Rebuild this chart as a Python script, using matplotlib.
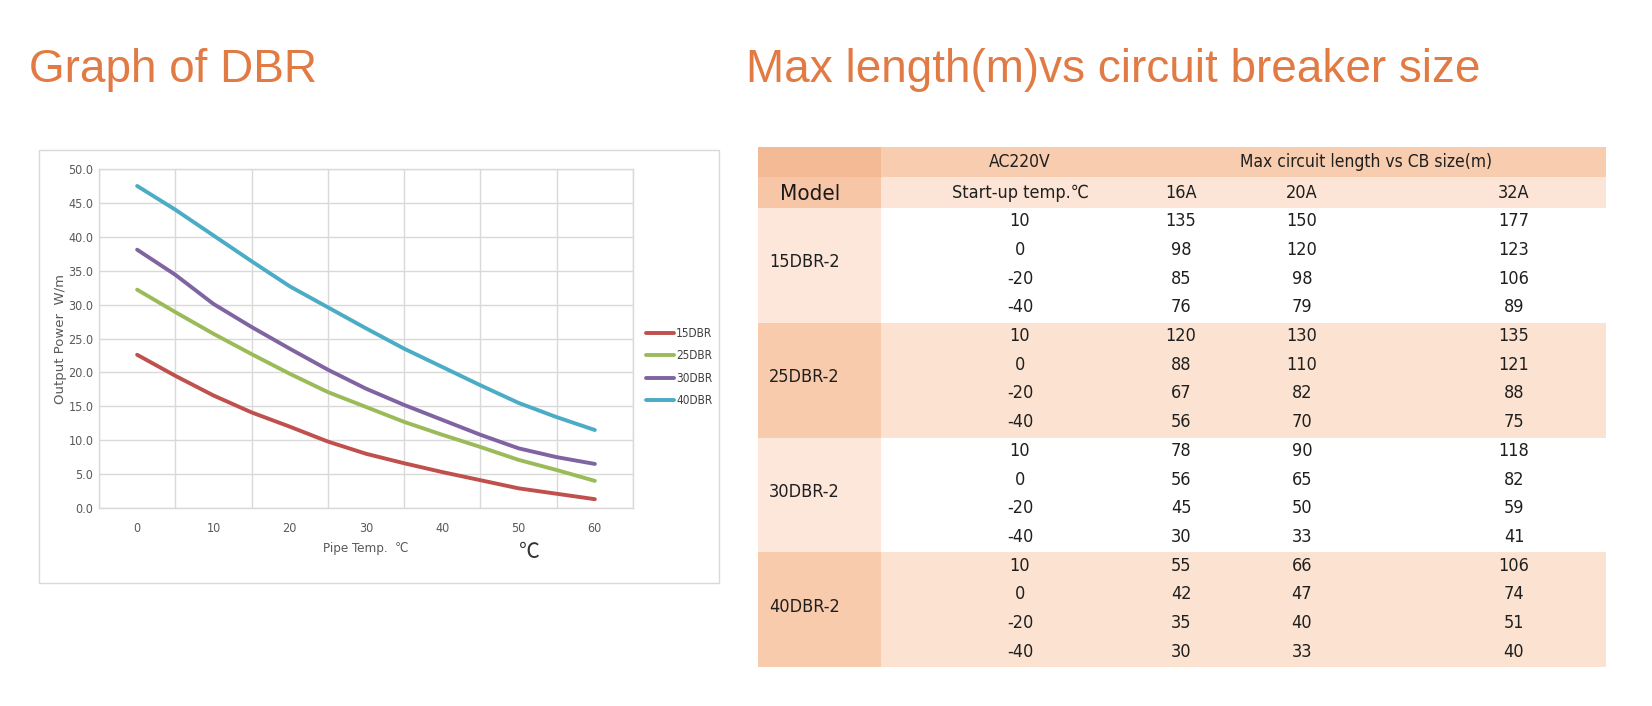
import numpy as np
import matplotlib
matplotlib.use("Agg")
import matplotlib.pyplot as plt
from matplotlib.patches import Rectangle
from matplotlib import font_manager

# ---- chart data ----
temps = [0, 5, 10, 15, 20, 25, 30, 35, 40, 45, 50, 55, 60]
p15 = [22.6, 19.5, 16.6, 14.1, 12.0, 9.8, 8.0, 6.6, 5.3, 4.1, 2.9, 2.1, 1.3]
p25 = [32.2, 28.9, 25.7, 22.7, 19.8, 17.1, 14.9, 12.7, 10.8, 9.0, 7.1, 5.6, 4.0]
p30 = [38.1, 34.4, 30.1, 26.7, 23.5, 20.4, 17.6, 15.2, 13.0, 10.8, 8.8, 7.5, 6.5]
p40 = [47.5, 44.0, 40.2, 36.4, 32.7, 29.6, 26.5, 23.5, 20.8, 18.1, 15.5, 13.4, 11.5]
series_names = ["15DBR", "25DBR", "30DBR", "40DBR"]
series_colors = ["#C0504D", "#9BBB59", "#8064A2", "#4BACC6"]

# ---- table data ----
models = ["15DBR-2", "25DBR-2", "30DBR-2", "40DBR-2"]
startup = [10, 0, -20, -40]
cb_sizes = ["16A", "20A", "32A"]
len16 = [[135, 98, 85, 76], [120, 88, 67, 56], [78, 56, 45, 30], [55, 42, 35, 30]]
len20 = [[150, 120, 98, 79], [130, 110, 82, 70], [90, 65, 50, 33], [66, 47, 40, 33]]
len32 = [[177, 123, 106, 89], [135, 121, 88, 75], [118, 82, 59, 41], [106, 74, 51, 40]]

# narrow font: condensed DejaVu if it is there, else Liberation Sans
have_cond = any(f.name == "DejaVu Sans" and f.stretch == "condensed"
                for f in font_manager.fontManager.ttflist)
if have_cond:
    nf = dict(family=["DejaVu Sans"], stretch="condensed")
    tsize = 13
else:
    nf = dict(family=["Liberation Sans", "DejaVu Sans"])
    tsize = 13.5

W, H = 1652, 706
fig = plt.figure(figsize=(W / 100, H / 100), dpi=100)
fig.patch.set_facecolor("white")
orange = "#E27A44"

# overlay in pixel coords for titles / table / frame
ov = fig.add_axes([0, 0, 1, 1])
ov.set_xlim(0, W)
ov.set_ylim(H, 0)
ov.axis("off")

ov.text(29, 82, "Graph of DBR", fontsize=33, color=orange,
        family="Liberation Sans", va="baseline", ha="left")
ov.text(746, 82, "Max length(m)vs circuit breaker size", fontsize=33, color=orange,
        family="Liberation Sans", va="baseline", ha="left")

# chart frame
ov.add_patch(Rectangle((39, 150), 680, 433, fill=False, ec="#D9D9D9", lw=1))

# ---- table ----
t_left, t_right = 758, 1606
model_right = 881
h1_top, h1_bot, h2_bot, t_bot = 147, 177, 208, 667
row_h = (t_bot - h2_bot) / 16
col_x = [1020, 1181, 1302, 1514]
txt = "#1f1f1f"

ov.add_patch(Rectangle((t_left, h1_top), model_right - t_left, h1_bot - h1_top, color="#F4BA96", lw=0))
ov.add_patch(Rectangle((model_right, h1_top), t_right - model_right, h1_bot - h1_top, color="#F8CCAF", lw=0))
ov.add_patch(Rectangle((t_left, h1_bot), model_right - t_left, h2_bot - h1_bot, color="#F7C6A7", lw=0))
ov.add_patch(Rectangle((model_right, h1_bot), t_right - model_right, h2_bot - h1_bot, color="#FCE5D6", lw=0))

ov.text(col_x[0], (h1_top + h1_bot) / 2, "AC220V", fontsize=tsize - 0.5, color=txt, ha="center", va="center", **nf)
ov.text(1366, (h1_top + h1_bot) / 2, "Max circuit length vs CB size(m)", fontsize=tsize - 0.5,
        color=txt, ha="center", va="center", **nf)
ov.text(780, (h1_bot + h2_bot) / 2 + 1, "Model", fontsize=tsize + 3, color="#1a1a1a", ha="left", va="center", **nf)
ov.text(col_x[0], (h1_bot + h2_bot) / 2, "Start-up temp.℃", fontsize=tsize, color=txt,
        ha="center", va="center", **nf)
for cx, lab in zip(col_x[1:], cb_sizes):
    ov.text(cx, (h1_bot + h2_bot) / 2, lab, fontsize=tsize, color=txt, ha="center", va="center", **nf)

for b, model in enumerate(models):
    top = h2_bot + b * 4 * row_h
    if b % 2 == 0:
        mc, dc = "#FCE7DA", "white"
    else:
        mc, dc = "#F8CBAD", "#FBE2D1"
    ov.add_patch(Rectangle((t_left, top), model_right - t_left, 4 * row_h, color=mc, lw=0))
    ov.add_patch(Rectangle((model_right, top), t_right - model_right, 4 * row_h, color=dc, lw=0))
    ov.text(769, top + 2 * row_h - 3, model, fontsize=tsize, color=txt, ha="left", va="center", **nf)
    for r in range(4):
        y = top + (r + 0.5) * row_h - 1
        vals = [startup[r], len16[b][r], len20[b][r], len32[b][r]]
        for cx, v in zip(col_x, vals):
            ov.text(cx, y, str(v), fontsize=tsize, color=txt, ha="center", va="center", **nf)

# ---- chart ----
ax = fig.add_axes([99 / W, 1 - 508 / H, (633 - 99) / W, (508 - 169) / H])
for vals, name, c in zip([p15, p25, p30, p40], series_names, series_colors):
    ax.plot(temps, vals, color=c, lw=2.8, label=name, solid_capstyle="round", solid_joinstyle="round")

ax.set_xlim(-5, 65)
ax.set_ylim(0, 50)
ax.set_xticks(np.arange(0, 61, 10))
ax.set_xticks(np.arange(-5, 66, 10), minor=True)
ax.set_yticks(np.arange(0, 51, 5))
ax.set_yticklabels(["%.1f" % v for v in np.arange(0, 51, 5)])
ax.grid(axis="x", which="minor", color="#D9D9D9", lw=1)
ax.grid(axis="y", which="major", color="#D9D9D9", lw=1)
ax.tick_params(which="both", length=0)
ax.tick_params(axis="y", pad=4, labelsize=9, labelcolor="#595959")
ax.tick_params(axis="x", pad=10, labelsize=9, labelcolor="#595959")
for lab in ax.get_xticklabels() + ax.get_yticklabels():
    lab.set_family(nf["family"])
    if have_cond:
        lab.set_stretch("condensed")
for s in ax.spines.values():
    s.set_color("#D9D9D9")
    s.set_linewidth(1)

ax.set_ylabel("Output Power  W/m", fontsize=9.5, color="#595959", family="DejaVu Sans", labelpad=1)
ax.set_xlabel("Pipe Temp.  ℃", fontsize=9.5, color="#595959", labelpad=5, **nf)
ov.text(529, 552, "℃", fontsize=15, color="#333333", family=["Noto Sans CJK SC", "DejaVu Sans"],
        ha="center", va="center")

leg = ax.legend(loc="center left", bbox_to_anchor=(646 / W, 1 - 367 / H), bbox_transform=fig.transFigure,
                frameon=False, handlelength=2.4, handletextpad=0.15, labelspacing=0.8,
                borderpad=0, borderaxespad=0, prop=font_manager.FontProperties(size=8.5, **nf))
for t in leg.get_texts():
    t.set_color("#404040")

fig.savefig("out.png", dpi=100, facecolor="white")
